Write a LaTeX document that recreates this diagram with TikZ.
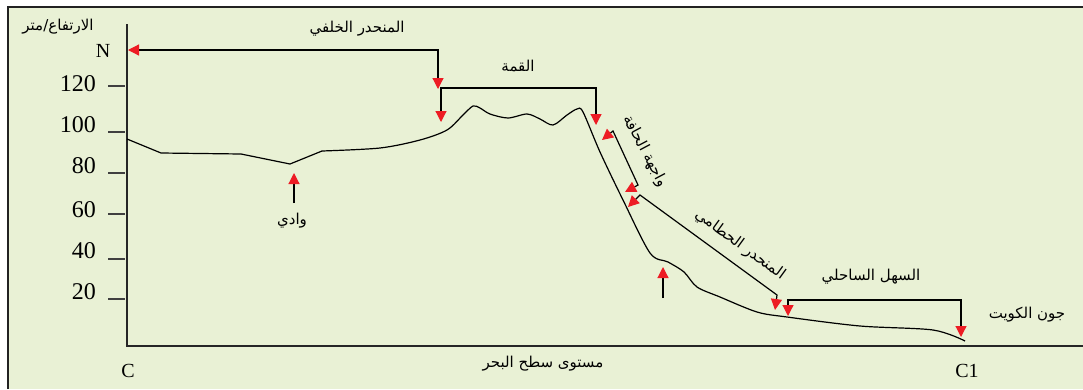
\documentclass[tikz,border=0pt]{standalone}
\usepackage{fontspec}
\setmainfont{Liberation Serif}
\newfontfamily\arabicfont[Script=Arabic]{DejaVu Sans}
\TeXXeTstate=1
\usetikzlibrary{arrows.meta}
\definecolor{bgc}{HTML}{E9F1D5}
\definecolor{arrred}{HTML}{ED1C24}
\definecolor{framec}{HTML}{222222}
\tikzset{
  tip/.tip={Triangle[width=11pt,length=11pt,color=arrred]},
  link/.style={line width=1.2pt, black},
  ar/.style={font=\arabicfont\fontsize{15}{17}\selectfont, inner sep=0pt},
  num/.style={font=\fontsize{24}{26}\selectfont, inner sep=0pt, anchor=base east},
  lat/.style={font=\fontsize{20}{22}\selectfont, inner sep=0pt, anchor=base},
}
\begin{document}
\begin{tikzpicture}[x=1pt,y=-1pt]
\useasboundingbox (0,0) rectangle (1083,389);
\fill[white] (0,0) rectangle (1083,389);
\fill[bgc] (8,7) rectangle (1083,389);
\draw[framec, line width=2pt] (8,389) -- (8,7) -- (1083,7);

% axes
\coordinate (ytop) at (127,24);
\coordinate (orig) at (127,346);
\coordinate (xend) at (1083,346);
\draw[line width=1.6pt, black!85] (ytop) -- (orig) -- (xend);

% ticks and numbers
\foreach \v/\t/\b in {120/86/91, 100/132/132, 80/173/173, 60/214/217, 40/259/258, 20/299/299}{
  \draw[line width=1.4pt, black!75] (108,\t) -- (125,\t);
  \node[num] (n\v) at (96,\b) {\v};
}
\node[lat] (N) at (103,57) {N};
\node[lat] (C) at (128,377) {C};
\node[lat] (C1) at (967,377) {C1};

% texts
\node[ar] (yl) at (58,27) {\beginR الارتفاع/متر\endR};
\node[ar] (t1) at (357,29) {\beginR المنحدر الخلفي\endR};
\node[ar] (t2) at (518,66) {\beginR القمة\endR};
\node[ar] (t3) at (292,221) {\beginR وادي\endR};
\node[ar] (t4) at (543,364) {\beginR مستوى سطح البحر\endR};
\node[ar] (t5) at (871,277) {\beginR السهل الساحلي\endR};
\node[ar] (t6) at (1027,315) {\beginR جون الكويت\endR};
\node[ar, rotate=-62] (t7) at (645,151) {\beginR واجهة الحافة\endR};
\node[ar, rotate=-36] (t8) at (740,245) {\beginR المنحدر الحطامي\endR};

% profile
\draw[link] (127,139) -- (161,153) -- (241,154) -- (290,164) -- (322,151);
\draw[link] plot[smooth, tension=0.5] coordinates {(322,151) (380,148) (420,140) (447,130) (463,115) (473,106) (480,108) (490,114) (508,118) (527,114) (540,119) (553,125) (567,115) (577,109) (583,112) (600,152) (623,200) (650,253) (668,262) (684,272) (697,287) (720,297) (757,312) (787,317) (860,326) (933,330) (965,341)};

% brackets
\coordinate (a1) at (128,50);
\coordinate (a2) at (438,50);
\coordinate (a3) at (438,89);
\draw[link, {tip}-{tip}] (a1) -- (a2) -- (a3);

\coordinate (b1) at (441,122);
\coordinate (b2) at (441,88);
\coordinate (b3) at (596,88);
\coordinate (b4) at (596,125);
\draw[link, {tip}-{tip}] (b1) -- (b2) -- (b3) -- (b4);

\coordinate (c1) at (602,140);
\coordinate (c2) at (613,131);
\coordinate (c3) at (638,185);
\coordinate (c4) at (625,192);
\draw[link, {tip}-{tip}] (c1) -- (c2) -- (c3) -- (c4);

\coordinate (d1) at (628,207);
\coordinate (d2) at (640,195);
\coordinate (d3) at (777,295);
\coordinate (d4) at (775,310);
\draw[link, {tip}-{tip}] (d1) -- (d2) -- (d3) -- (d4);

\coordinate (e1) at (788,316);
\coordinate (e2) at (788,300);
\coordinate (e3) at (961,300);
\coordinate (e4) at (961,337);
\draw[link, {tip}-{tip}] (e1) -- (e2) -- (e3) -- (e4);

% up arrows
\coordinate (f1) at (294,203);
\coordinate (f2) at (294,173);
\draw[link, -{tip}] (f1) -- (f2);
\coordinate (g1) at (663,298);
\coordinate (g2) at (663,267);
\draw[link, -{tip}] (g1) -- (g2);
\end{tikzpicture}
\end{document}
